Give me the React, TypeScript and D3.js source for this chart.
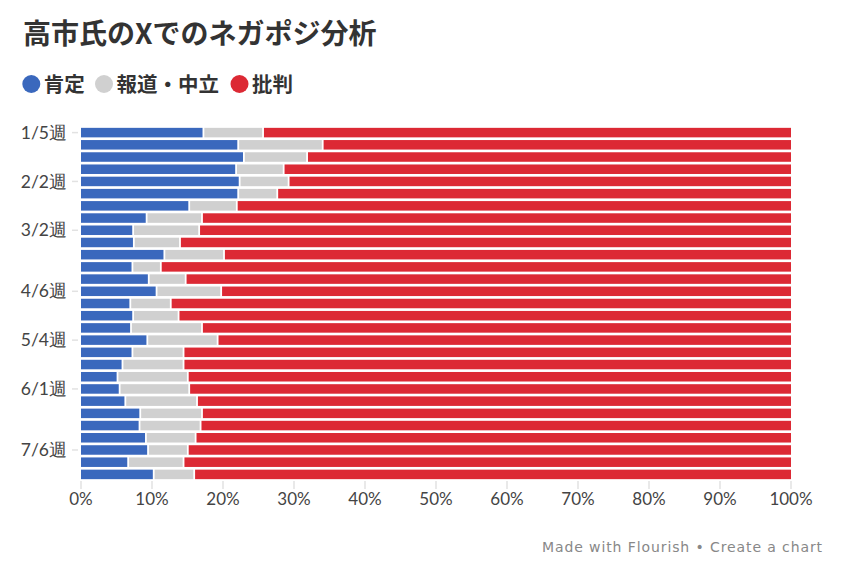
import * as d3 from "d3";
import { useEffect, useRef } from "react";

const weeks = [
  "1/5", "1/12", "1/19", "1/26", "2/2", "2/9", "2/16", "2/23", "3/2", "3/9",
  "3/16", "3/23", "3/30", "4/6", "4/13", "4/20", "4/27", "5/4", "5/11", "5/18",
  "5/25", "6/1", "6/8", "6/15", "6/22", "6/29", "7/6", "7/13", "7/20",
];
const labelledWeeks = ["1/5", "2/2", "3/2", "4/6", "5/4", "6/1", "7/6"];

const positive = [
  17.2, 22.1, 22.9, 21.8, 22.3, 22.1, 15.2, 9.2, 7.3, 7.4, 11.7, 7.2, 9.5, 10.6, 6.9,
  7.3, 7.0, 9.3, 7.2, 5.8, 5.1, 5.4, 6.2, 8.3, 8.2, 9.1, 9.4, 6.6, 10.2,
];
const neutral = [
  8.4, 11.9, 8.9, 6.7, 6.9, 5.5, 6.7, 7.8, 9.3, 6.5, 8.4, 4.0, 5.2, 9.1, 5.7,
  6.4, 10.0, 9.9, 7.2, 8.6, 9.9, 9.8, 10.1, 8.7, 8.6, 7.0, 5.6, 7.8, 5.7,
];
const critical = [
  74.4, 66.0, 68.2, 71.5, 70.8, 72.4, 78.1, 83.0, 83.4, 86.1, 79.9, 88.8, 85.3, 80.3, 87.4,
  86.3, 83.0, 80.8, 85.6, 85.6, 85.0, 84.8, 83.7, 83.0, 83.2, 83.9, 85.0, 85.6, 84.1,
];

const seriesNames = ["肯定", "報道・中立", "批判"];
const seriesColors = ["#3a68bd", "#d0d0d0", "#dc2934"];
const xTicks = [0, 10, 20, 30, 40, 50, 60, 70, 80, 90, 100];

const W = 849;
const H = 569;
const FONT = "Lato, 'Noto Sans', sans-serif";
const CJK = "'Noto Sans CJK JP', 'Noto Sans', sans-serif";

export default function App() {
  const ref = useRef<SVGSVGElement>(null);

  useEffect(() => {
    if (!ref.current) return;
    const svg = d3.select(ref.current);
    svg.selectAll("*").remove();

    const rows = weeks.map((w, i) => ({
      week: w,
      values: [positive[i], neutral[i], critical[i]],
    }));

    const x = d3.scaleLinear().domain([0, 100]).range([81, 791]);
    const y = d3
      .scaleBand<string>()
      .domain(weeks)
      .range([126.5, 480.5])
      .paddingInner(0.22)
      .paddingOuter(0.11);

    // title
    svg
      .append("text")
      .attr("x", 23)
      .attr("y", 44)
      .attr("font-family", CJK)
      .attr("font-size", 28)
      .attr("font-weight", 700)
      .attr("fill", "#333")
      .text("高市氏のXでのネガポジ分析");

    // legend
    const legendX = [31.3, 104, 239.5];
    const legend = svg.append("g");
    seriesNames.forEach((name, i) => {
      legend
        .append("circle")
        .attr("cx", legendX[i])
        .attr("cy", 84)
        .attr("r", 9)
        .attr("fill", seriesColors[i]);
      legend
        .append("text")
        .attr("x", legendX[i] + 12.5)
        .attr("y", 91.5)
        .attr("font-family", CJK)
        .attr("font-size", 20.5)
        .attr("font-weight", 700)
        .attr("fill", "#333")
        .text(name);
    });

    // bars
    const g = svg.append("g");
    rows.forEach((r) => {
      let acc = 0;
      r.values.forEach((v, j) => {
        const x0 = x(acc);
        const x1 = x(acc + v);
        acc += v;
        g.append("rect")
          .attr("x", x0 + (j > 0 ? 1.2 : 0))
          .attr("y", y(r.week)!)
          .attr("width", Math.max(0, x1 - x0 - (j > 0 ? 1.2 : 0) - (j < 2 ? 0.6 : 0)))
          .attr("height", y.bandwidth())
          .attr("fill", seriesColors[j]);
      });
    });

    // y axis labels
    const yAxis = svg.append("g");
    labelledWeeks.forEach((w) => {
      const cy = y(w)! + y.bandwidth() / 2;
      yAxis
        .append("line")
        .attr("x1", 72)
        .attr("x2", 78)
        .attr("y1", cy)
        .attr("y2", cy)
        .attr("stroke", "#e2e2e2")
        .attr("stroke-width", 1.5);
      yAxis
        .append("text")
        .attr("x", 67)
        .attr("y", cy)
        .attr("dy", "0.35em")
        .attr("text-anchor", "end")
        .attr("font-family", FONT)
        .attr("font-size", 17.5)
        .attr("fill", "#444")
        .text(`${w}週`);
    });

    // x axis
    const xAxis = svg.append("g");
    xTicks.forEach((t) => {
      xAxis
        .append("line")
        .attr("x1", x(t))
        .attr("x2", x(t))
        .attr("y1", 481)
        .attr("y2", 489)
        .attr("stroke", "#e2e2e2")
        .attr("stroke-width", 1.5);
      xAxis
        .append("text")
        .attr("x", x(t))
        .attr("y", 499)
        .attr("dy", "0.35em")
        .attr("text-anchor", "middle")
        .attr("font-family", FONT)
        .attr("font-size", 17)
        .attr("fill", "#444")
        .text(`${t}%`);
    });

    // footer
    svg
      .append("text")
      .attr("x", 823)
      .attr("y", 552)
      .attr("text-anchor", "end")
      .attr("font-family", "'DejaVu Sans', sans-serif")
      .attr("font-size", 14)
      .attr("letter-spacing", 0.9)
      .attr("fill", "#888")
      .text("Made with Flourish • Create a chart");
  }, []);

  return (
    <svg
      ref={ref}
      width={W}
      height={H}
      style={{ position: "absolute", left: 0, top: 0, background: "#fff" }}
    />
  );
}
